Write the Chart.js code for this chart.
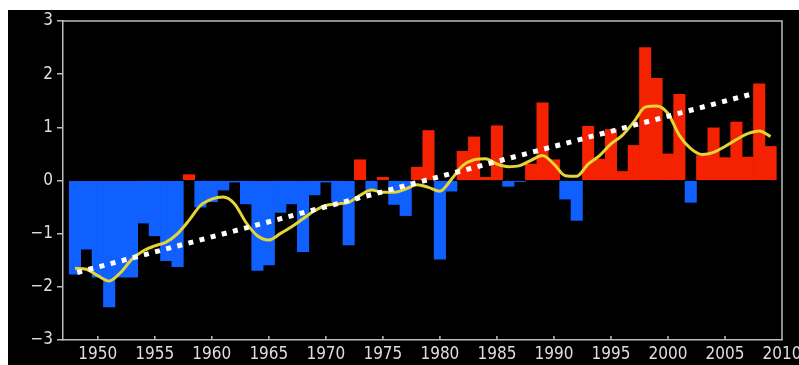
<!DOCTYPE html>
<html>
<head>
<meta charset="utf-8">
<script src="https://cdn.jsdelivr.net/npm/chart.js@4.4.1/dist/chart.umd.min.js"></script>
<style>
  html, body { margin: 0; padding: 0; background: #fff; }
  #wrap { width: 799px; height: 365px; }
</style>
</head>
<body>
<div id="wrap"><canvas id="anomalyChart" width="799" height="365"></canvas></div>
<script>
// anomaly per year (bars)
const years = [1948, 1949, 1950, 1951, 1952, 1953, 1954, 1955, 1956, 1957,
  1958, 1959, 1960, 1961, 1962, 1963, 1964, 1965, 1966, 1967,
  1968, 1969, 1970, 1971, 1972, 1973, 1974, 1975, 1976, 1977,
  1978, 1979, 1980, 1981, 1982, 1983, 1984, 1985, 1986, 1987,
  1988, 1989, 1990, 1991, 1992, 1993, 1994, 1995, 1996, 1997,
  1998, 1999, 2000, 2001, 2002, 2003, 2004, 2005, 2006, 2007,
  2008, 2009];
const anomaly = [-1.76, -1.29, -1.82, -2.38, -1.82, -1.82, -0.80, -1.04, -1.51, -1.62,
  0.11, -0.50, -0.40, -0.18, -0.03, -0.44, -1.69, -1.59, -0.60, -0.44,
  -1.34, -0.27, -0.03, -0.40, -1.21, 0.39, -0.18, 0.06, -0.45, -0.66,
  0.25, 0.94, -1.48, -0.20, 0.55, 0.82, 0.06, 1.03, -0.11, -0.02,
  0.31, 1.46, 0.39, -0.35, -0.75, 1.02, 0.40, 0.96, 0.17, 0.66,
  2.50, 1.92, 0.50, 1.62, -0.41, 0.47, 0.99, 0.43, 1.10, 0.44,
  1.82, 0.64];
// smoothed curve (yellow)
const smoothed = [-1.65, -1.67, -1.79, -1.89, -1.73, -1.48, -1.32, -1.23, -1.16, -1.00,
  -0.75, -0.47, -0.35, -0.31, -0.44, -0.79, -1.04, -1.12, -1.00, -0.87,
  -0.72, -0.57, -0.47, -0.44, -0.41, -0.28, -0.18, -0.22, -0.22, -0.16,
  -0.08, -0.13, -0.20, 0.02, 0.28, 0.39, 0.41, 0.31, 0.26, 0.28,
  0.38, 0.47, 0.31, 0.09, 0.08, 0.31, 0.47, 0.69, 0.85, 1.10,
  1.38, 1.40, 1.26, 0.85, 0.60, 0.49, 0.53, 0.64, 0.77, 0.88,
  0.93, 0.83];
// linear trend (white dotted)
const trendYears = [1948.2, 2007.6];
const trendValues = [-1.73, 1.64];

const xTicks = [1950, 1955, 1960, 1965, 1970, 1975, 1980, 1985, 1990, 1995, 2000, 2005, 2010];
const yTicks = [-3, -2, -1, 0, 1, 2, 3];

const RED = "#f42200";
const BLUE = "#1060ff";
const AXIS = "#bdbdbd";
const LABEL = "#dedede";
const tickFont = { family: "'Liberation Sans Narrow', 'DejaVu Sans Condensed', sans-serif", size: 17 };

// black panel behind everything
const panelBg = {
  id: "panelBg",
  beforeDraw(chart) {
    const c = chart.ctx;
    c.save();
    c.fillStyle = "#fff";
    c.fillRect(0, 0, chart.width, chart.height);
    c.fillStyle = "#000";
    c.fillRect(8, 10, chart.width - 8, chart.height - 10);
    c.restore();
  }
};

// box frame + inward x ticks
const frame = {
  id: "frame",
  afterDraw(chart) {
    const c = chart.ctx;
    const a = chart.chartArea;
    const xs = chart.scales.x;
    c.save();
    c.strokeStyle = AXIS;
    c.lineWidth = 1.5;
    c.beginPath();
    c.moveTo(a.left, a.top);
    c.lineTo(a.right, a.top);
    c.lineTo(a.right, a.bottom);
    xs.ticks.forEach(t => {
      const px = xs.getPixelForValue(t.value);
      c.moveTo(px, a.bottom);
      c.lineTo(px, a.bottom - 4);
    });
    c.stroke();
    c.restore();
  }
};

const toPts = (xsArr, ysArr) => xsArr.map((x, i) => ({ x: x, y: ysArr[i] }));

new Chart(document.getElementById("anomalyChart").getContext("2d"), {
  type: "bar",
  data: {
    datasets: [
      {
        type: "line",
        data: toPts(trendYears, trendValues),
        borderColor: "#ffffff",
        borderWidth: 5,
        borderDash: [5, 6.5],
        borderCapStyle: "butt",
        pointRadius: 0,
        order: 1
      },
      {
        type: "line",
        data: toPts(years, smoothed),
        borderColor: "#e4d434",
        borderWidth: 3,
        cubicInterpolationMode: "monotone",
        pointRadius: 0,
        order: 2
      },
      {
        type: "bar",
        data: toPts(years, anomaly),
        backgroundColor: ctx => (ctx.raw && ctx.raw.y >= 0 ? RED : BLUE),
        borderWidth: 0,
        barPercentage: 1.0,
        categoryPercentage: 1.0,
        order: 3
      }
    ]
  },
  options: {
    responsive: false,
    animation: false,
    layout: { padding: { left: 8, top: 21, right: 17, bottom: 0 } },
    plugins: {
      legend: { display: false },
      tooltip: { enabled: false }
    },
    scales: {
      x: {
        type: "linear",
        min: 1946.95,
        max: 2010,
        offset: false,
        grid: { offset: false, drawOnChartArea: false, drawTicks: false },
        border: { color: AXIS, width: 1.5 },
        ticks: {
          color: LABEL,
          font: tickFont,
          padding: 4,
          maxRotation: 0,
          callback: v => String(v)
        },
        afterBuildTicks: s => { s.ticks = xTicks.map(v => ({ value: v })); },
        afterFit: s => { s.height = 25; s.paddingLeft = 0; s.paddingRight = 0; }
      },
      y: {
        min: -3,
        max: 3,
        grid: { drawOnChartArea: false, drawTicks: true, tickLength: 6, color: AXIS, lineWidth: 1.5 },
        border: { color: AXIS, width: 1.5 },
        ticks: {
          color: LABEL,
          font: tickFont,
          padding: 4,
          callback: v => (v < 0 ? "\u2212" + Math.abs(v) : String(v))
        },
        afterBuildTicks: s => { s.ticks = yTicks.map(v => ({ value: v })); },
        afterFit: s => { s.width = 55; s.paddingTop = 0; s.paddingBottom = 0; }
      }
    }
  },
  plugins: [panelBg, frame]
});
</script>
</body>
</html>
